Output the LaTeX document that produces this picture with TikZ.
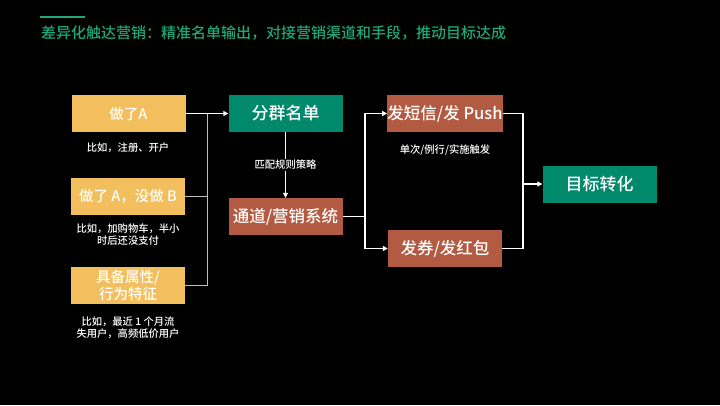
\documentclass[tikz,border=0pt]{standalone}
\usepackage{fontspec}
\setmainfont{Noto Sans CJK SC}[UprightFont=* Medium, BoldFont=* Bold]
\usetikzlibrary{arrows.meta}
\definecolor{titlegreen}{RGB}{31,166,122}
\definecolor{boxgreen}{RGB}{0,137,107}
\definecolor{boxred}{RGB}{179,90,66}
\definecolor{boxorange}{RGB}{242,190,94}
\definecolor{linegray}{RGB}{190,190,190}

\begin{document}
\begin{tikzpicture}[x=1pt, y=-1pt,
    box/.style={minimum width=114pt, minimum height=37pt, inner sep=0pt, text=white, align=center},
    cond/.style={box, fill=boxorange, font=\fontsize{14.5}{17}\selectfont},
    green/.style={box, fill=boxgreen, font=\fontsize{17}{20}\selectfont},
    act/.style={box, fill=boxred, font=\fontsize{16.5}{20}\selectfont},
    note/.style={text=white, align=center, inner sep=1pt, font=\fontsize{10.3}{12.5}\selectfont},
    wire/.style={white, line width=1.2pt},
    thin/.style={linegray, line width=0.9pt},
    tip/.style={-{Triangle[length=5pt, width=5pt]}}]
    \fill[black] (0,0) rectangle (720,405);
    \useasboundingbox (0,0) rectangle (720,405);
    % title
    \draw[titlegreen, line width=2pt] (40,16.5) -- (85,16.5);
    \node[anchor=west, inner sep=0pt, text=titlegreen, font=\fontsize{15}{18}\selectfont] (title) at (41,33)
        {差异化触达营销：精准名单输出，对接营销渠道和手段，推动目标达成};
    % conditions
    \node[cond] (do1) at (128.5,113.5) {做了A};
    \node[cond] (do2) at (128,196.5) {做了 A，没做 B};
    \node[cond] (do3) at (128,285.5) {具备属性/\\行为特征};
    \node[note] (ex1) at (128,148) {比如，注册、开户};
    \node[note] (ex2) at (128,234.5) {比如，加购物车，半小\\时后还没支付};
    \node[note] (ex3) at (128,328) {比如，最近 1 个月流\\失用户，高频低价用户};
    % list and channel
    \node[green] (list) at (285.5,113.5) {分群名单};
    \node[act] (chan) at (285.5,216.5) {通道/营销系统};
    \node[act] (sms) at (445,113.5) {发短信/发 Push};
    \node[act] (coupon) at (445,248.5) {发券/发红包};
    \node[note] (freq) at (445,150) {单次/例行/实施触发};
    \node[green] (goal) at (599.5,184) {目标转化};
    \coordinate (j1) at (207,113.5);
    \coordinate (j2) at (365,216.5);
    \coordinate (j3) at (523,184);
    % connectors
    \draw[thin] (do2.east) -- (do2.east -| j1);
    \draw[thin] (do3.east) -| (j1);
    \draw[wire, tip] (do1.east) -- (list.west);
    \draw[white, line width=0.8pt, tip] (list.south) -- node[note, fill=black] (rule) {匹配规则策略} (chan.north);
    \draw[wire] (chan.east) -- (j2);
    \draw[wire, tip] (j2) |- (sms.west);
    \draw[wire, tip] (j2) |- (coupon.west);
    \draw[wire] (sms.east) -| (j3) |- (coupon.east);
    \draw[wire, line width=2pt, tip] (j3) -- (goal.west);
\end{tikzpicture}
\end{document}
